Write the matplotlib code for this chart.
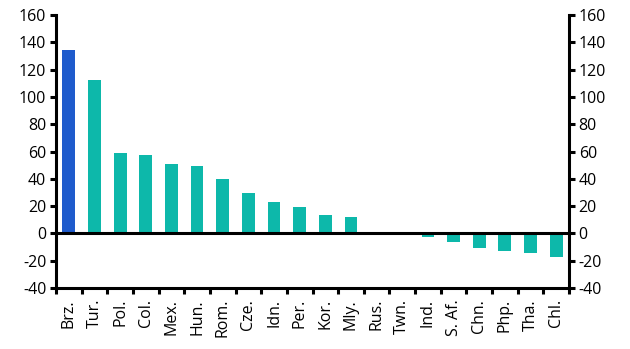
import matplotlib
matplotlib.use("Agg")
import matplotlib.pyplot as plt
import numpy as np

categories = ["Brz.", "Tur.", "Pol.", "Col.", "Mex.", "Hun.", "Rom.", "Cze.", "Idn.", "Per.",
              "Kor.", "Mly.", "Rus.", "Twn.", "Ind.", "S. Af.", "Chn.", "Php.", "Tha.", "Chl."]
values = [134, 112.5, 59, 57.5, 50.5, 49.5, 40, 29.5, 23, 19.5,
          13.5, 12, 0, 0, -3, -6.5, -11, -13, -14, -17]
highlight = "Brz."

blue = "#1f5bcc"
teal = "#0db8aa"

plt.rcParams["font.family"] = ["Open Sans", "DejaVu Sans"]
plt.rcParams["font.size"] = 11.5

fig = plt.figure(figsize=(6.30, 3.49), dpi=100)
ax = fig.add_axes([56 / 630, 1 - 288 / 349, (569 - 56) / 630, (288 - 15) / 349])

x = np.arange(len(categories))
colors = [blue if c == highlight else teal for c in categories]
ax.bar(x, values, width=0.5, color=colors, zorder=2)

ax.set_xlim(-0.5, len(categories) - 0.5)
ax.set_ylim(-40, 160)
yt = np.arange(-40, 161, 20)
ax.set_yticks(yt)
ax.set_yticklabels([str(v) for v in yt])

ax.axhline(0, color="black", lw=2.2, zorder=3)

for side in ["top"]:
    ax.spines[side].set_visible(False)
for side in ["left", "right", "bottom"]:
    ax.spines[side].set_linewidth(2.2)

ax.tick_params(axis="y", which="both", left=True, right=True, labelleft=True, labelright=True,
               direction="out", length=4, width=2.2, pad=3)

ax.set_xticks(x)
ax.set_xticklabels(categories, rotation=90)
ax.tick_params(axis="x", which="major", length=0, pad=8)
ax.set_xticks(np.arange(-0.5, len(categories), 1), minor=True)
ax.tick_params(axis="x", which="minor", direction="out", length=4, width=2.2)

fig.savefig("out.png", dpi=100)
